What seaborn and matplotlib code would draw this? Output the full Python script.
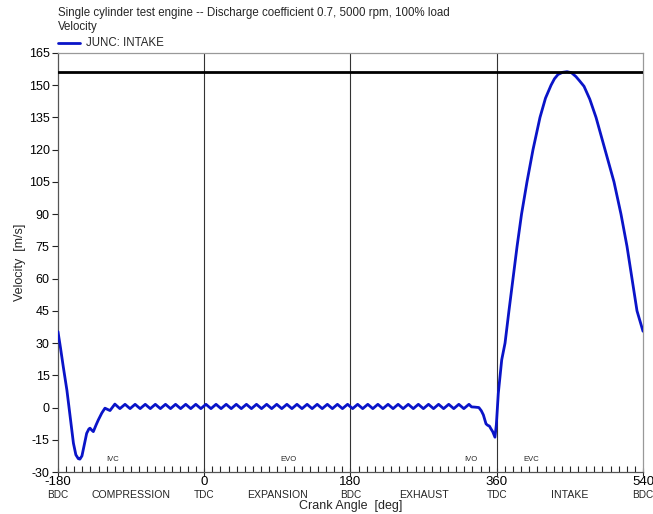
import matplotlib
matplotlib.use("Agg")
import matplotlib.pyplot as plt
import seaborn as sns
import pandas as pd

# Crank angle [deg] and junction velocity [m/s] for the intake junction
crank_angle = [
    -180.0, -177.0, -173.5, -169.0, -165.0, -161.0, -158.0, -155.0, -153.0,
    -150.5, -148.0, -144.7, -142.0, -140.6, -138.5, -136.5, -133.0, -130.4,
    -126.0, -122.2, -116.0,
    -110.0, -103.8, -97.5, -91.3, -85.1, -78.9, -72.6, -66.4, -60.2, -54.0,
    -47.7, -41.5, -35.3, -29.1, -22.8, -16.6, -10.4, -4.2, 2.1, 8.3, 14.5,
    20.7, 27.0, 33.2, 39.4, 45.6, 51.9, 58.1, 64.3, 70.5, 76.8, 83.0, 89.2,
    95.4, 101.7, 107.9, 114.1, 120.3, 126.6, 132.8, 139.0, 145.2, 151.5,
    157.7, 163.9, 170.1, 176.4, 182.6, 188.8, 195.0, 201.3, 207.5, 213.7,
    219.9, 226.2, 232.4, 238.6, 244.8, 251.1, 257.3, 263.5, 269.7, 276.0,
    282.2, 288.4, 294.6, 300.9, 307.1, 313.3, 319.5, 325.8,
    329.0, 333.0, 338.0, 341.0, 343.5, 346.8, 349.0, 350.9, 353.0, 355.0,
    357.8, 359.5, 361.9, 366.1, 370.2, 375.0, 380.0, 385.0, 390.5, 397.2,
    404.6, 413.2, 420.0, 426.8, 431.0, 435.4, 441.0, 446.5, 452.0, 457.5,
    462.0, 467.4, 474.5, 482.2, 493.2, 504.3, 512.9, 520.3, 526.5, 532.6,
    540.0,
]
velocity = [
    35.3, 28.0, 19.0, 8.0, -4.2, -16.6, -22.0, -23.8, -24.0,
    -22.5, -18.0, -12.0, -10.0, -9.6, -10.5, -11.2, -8.0, -5.8,
    -2.5, -0.3, -1.4,
    1.6, -0.5, 1.5, -0.5, 1.5, -0.5, 1.5, -0.5, 1.5, -0.5,
    1.5, -0.5, 1.5, -0.5, 1.5, -0.5, 1.5, -0.5, 1.5, -0.5, 1.5,
    -0.5, 1.5, -0.5, 1.5, -0.5, 1.5, -0.5, 1.5, -0.5, 1.5, -0.5, 1.5,
    -0.5, 1.5, -0.5, 1.5, -0.5, 1.5, -0.5, 1.5, -0.5, 1.5,
    -0.5, 1.5, -0.5, 1.5, -0.5, 1.5, -0.5, 1.5, -0.5, 1.5,
    -0.5, 1.5, -0.5, 1.5, -0.5, 1.5, -0.5, 1.5, -0.5, 1.5,
    -0.5, 1.5, -0.5, 1.5, -0.5, 1.5, -0.5, 1.5,
    0.3, 0.2, 0.0, -1.5, -3.4, -7.6, -8.3, -8.6, -10.0, -11.2,
    -13.8, -8.0, 6.6, 22.2, 30.0, 45.0, 60.0, 75.0, 90.0, 105.0,
    120.0, 135.0, 144.0, 150.0, 153.0, 155.0, 156.0, 156.3, 155.8, 154.0,
    152.0, 149.5, 143.5, 135.0, 120.0, 105.0, 90.0, 75.0, 60.0, 45.0,
    35.5,
]
max_velocity = 156.3

major_angles = [-180, 0, 180, 360, 540]
major_labels = ["-180", "0", "180", "360", "540"]
dead_centres = ["BDC", "TDC", "BDC", "TDC", "BDC"]
strokes = ["COMPRESSION", "EXPANSION", "EXHAUST", "INTAKE"]
stroke_mid = [-90, 90, 270, 450]
valve_events = ["IVC", "EVO", "IVO", "EVC"]
valve_angles = [-113, 104, 328, 403]
y_ticks = [-30, -15, 0, 15, 30, 45, 60, 75, 90, 105, 120, 135, 150, 165]

df = pd.DataFrame({"Crank Angle": crank_angle, "Velocity": velocity})

sns.set_style("ticks")
plt.rcParams["font.family"] = ["Liberation Sans", "DejaVu Sans"]

fig = plt.figure(figsize=(6.53, 5.14), dpi=100)
ax = fig.add_axes([0.0888, 0.0817, 0.8959, 0.8152])

line_color = "#0a14c8"
sns.lineplot(data=df, x="Crank Angle", y="Velocity", ax=ax, sort=False,
             estimator=None, color=line_color, lw=2.0, zorder=3)

ax.axhline(max_velocity, color="black", lw=2.0, zorder=4)
for a in major_angles[1:-1]:
    ax.axvline(a, color="#333333", lw=0.8, zorder=1)

ax.set_xlim(-180, 540)
ax.set_ylim(-30, 165)
ax.set_yticks(y_ticks)
ax.set_yticklabels([str(v) for v in y_ticks], fontsize=9)
ax.set_xticks(major_angles)
ax.set_xticklabels(major_labels, fontsize=9.5)
ax.set_xticks(list(range(-170, 540, 10)), minor=True)
ax.tick_params(axis="y", direction="out", length=4, width=0.8, pad=2, colors="#222222")
ax.tick_params(axis="x", which="major", direction="inout", length=6, width=0.8, pad=0)
ax.tick_params(axis="x", which="minor", direction="in", length=4, width=0.8)
for lbl in ax.get_yticklabels() + ax.get_xticklabels():
    lbl.set_color("black")

for side in ["left", "bottom"]:
    ax.spines[side].set_color("#555555")
    ax.spines[side].set_linewidth(0.9)
for side in ["top", "right"]:
    ax.spines[side].set_visible(True)
    ax.spines[side].set_color("#999999")
    ax.spines[side].set_linewidth(0.9)

xt = ax.get_xaxis_transform()
for a, name in zip(major_angles, dead_centres):
    ax.text(a, -0.054, name, transform=xt, ha="center", va="center", fontsize=7.2)
for a, name in zip(stroke_mid, strokes):
    ax.text(a, -0.054, name, transform=xt, ha="center", va="center", fontsize=7.6)
for a, name in zip(valve_angles, valve_events):
    ax.text(a, 0.03, name, transform=xt, ha="center", va="center", fontsize=5.5)

ax.set_xlabel("Crank Angle  [deg]", fontsize=9)
ax.xaxis.set_label_coords(0.5, -0.081)
ax.xaxis.label.set_va("center")
ax.set_ylabel("Velocity  [m/s]", fontsize=9, labelpad=2)

fig.text(0.0888, 0.9747, "Single cylinder test engine -- Discharge coefficient 0.7, 5000 rpm, 100% load",
         ha="left", va="center", fontsize=8.3)
fig.text(0.0888, 0.9475, "Velocity", ha="left", va="center", fontsize=8.3)
fig.add_artist(plt.Line2D([0.0888, 0.1225], [0.9163, 0.9163], color=line_color, lw=2.0,
                          transform=fig.transFigure))
fig.text(0.1317, 0.9163, "JUNC: INTAKE", ha="left", va="center", fontsize=8.3)

fig.savefig("out.png", dpi=100)
